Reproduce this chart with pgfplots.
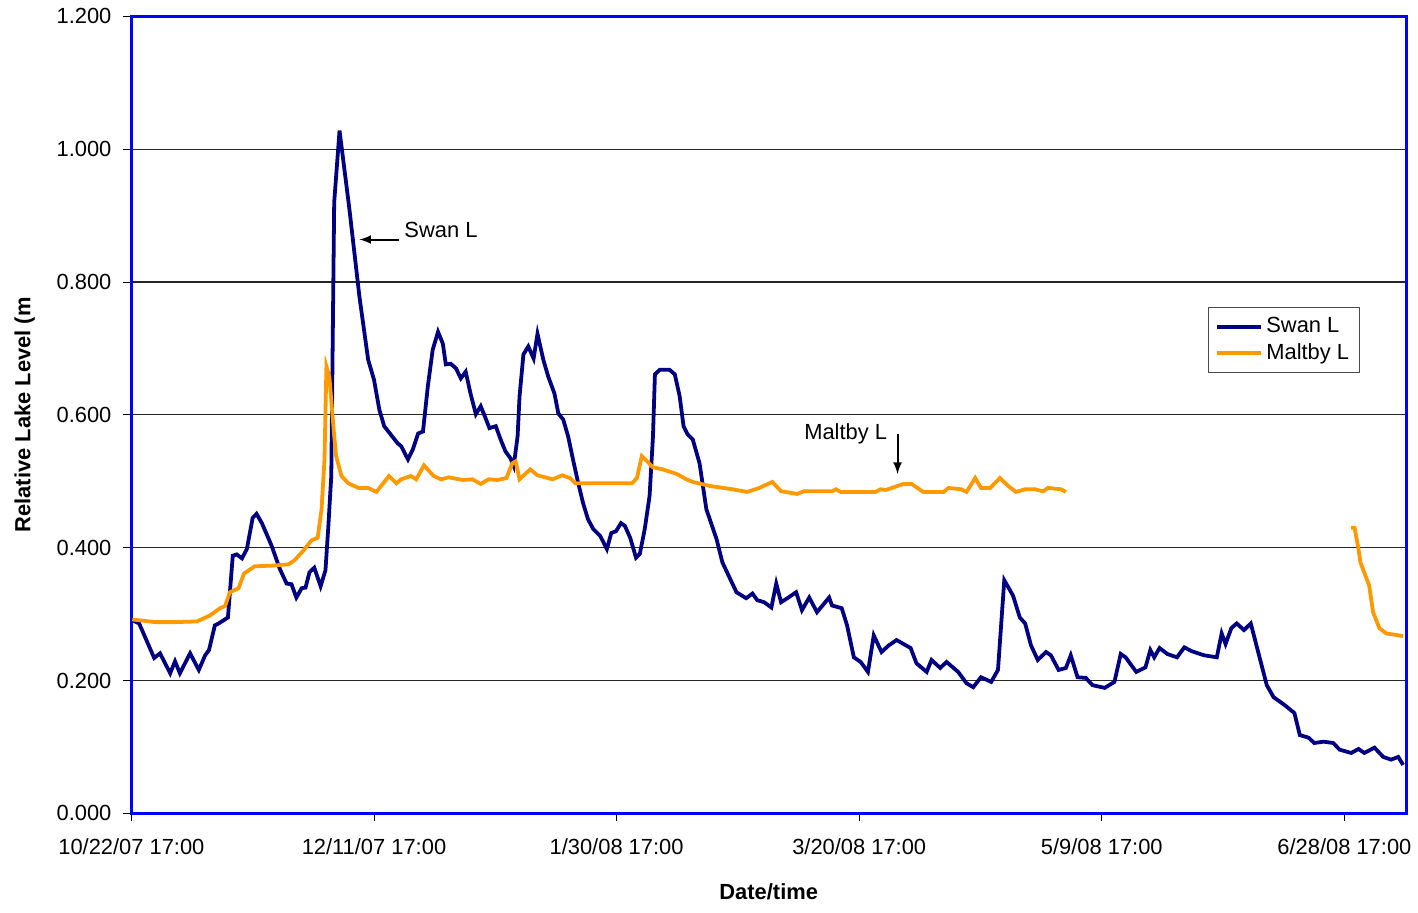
\documentclass[border=0pt]{standalone}
\usepackage{fontspec}
\setmainfont{Liberation Sans}
\usepackage{pgfplots}
\pgfplotsset{compat=1.18}
\definecolor{swan}{RGB}{0,0,128}
\definecolor{maltby}{RGB}{255,153,0}
\definecolor{frameblue}{RGB}{0,0,255}
\begin{document}
\begin{tikzpicture}
\begin{axis}[
    scale only axis,
    width=640.5pt, height=400.5pt,
    xmin=0, xmax=262.7,
    ymin=0, ymax=1.2,
    axis line style={frameblue, line width=1.5pt},
    xtick={0,50,100,150,200,250},
    xticklabels={10/22/07 17:00,12/11/07 17:00,1/30/08 17:00,3/20/08 17:00,5/9/08 17:00,6/28/08 17:00},
    ytick={0,0.2,0.4,0.6,0.8,1.0,1.2},
    yticklabel style={xshift=-2.5pt, /pgf/number format/.cd, fixed, fixed zerofill, precision=3},
    /pgf/number format/assume math mode=true,
    tick align=outside,
    tick pos=left,
    major tick length=4pt,
    tick style={black, thin},
    ymajorgrids=true,
    grid style={black!85, line width=0.6pt},
    ticklabel style={font=\fontsize{11}{13}\selectfont},
    xticklabel style={yshift=-5pt},
    xlabel={\textbf{Date/time}},
    ylabel={\textbf{Relative Lake Level (m}},
    label style={font=\fontsize{11}{13}\selectfont},
    xlabel style={yshift=-8pt},
    ylabel style={yshift=4pt},
    legend style={at={(0.845,0.635)}, anchor=north west, draw=black!70, thin,
        font=\fontsize{11}{13}\selectfont, row sep=0pt, inner sep=3pt},
    legend cell align=left,
    legend image code/.code={\draw[#1, line width=1.9pt] (0pt,0pt) -- (22pt,0pt);},
]
\addplot[swan, line width=1.9pt] coordinates {
(0.2,0.291)(1.6,0.286)(4.7,0.234)(5.9,0.241)(8.0,0.211)(9.0,0.229)(10.0,0.211)(12.1,0.241)(13.9,0.216)(15.2,0.238)(16.0,0.246)(17.2,0.283)(18.0,0.286)(19.9,0.295)(20.9,0.388)(21.7,0.390)(22.8,0.384)(23.8,0.398)(25.0,0.445)(25.8,0.451)(26.9,0.437)(28.9,0.403)(30.6,0.368)(32.0,0.346)(33.0,0.345)(34.0,0.325)(35.1,0.339)(35.9,0.340)(36.7,0.363)(37.7,0.370)(39.0,0.342)(40.0,0.366)(40.6,0.433)(41.2,0.508)(41.8,0.920)(42.9,1.028)(44.9,0.912)(47.0,0.778)(48.8,0.683)(50.0,0.653)(51.1,0.608)(52.1,0.583)(54.9,0.557)(55.6,0.553)(57.0,0.533)(58.0,0.548)(59.1,0.572)(60.1,0.575)(61.1,0.643)(62.1,0.698)(63.2,0.725)(64.2,0.707)(64.8,0.676)(65.8,0.677)(66.9,0.670)(67.9,0.655)(68.9,0.665)(69.9,0.632)(71.0,0.601)(72.0,0.613)(73.0,0.595)(73.8,0.580)(75.1,0.583)(76.1,0.563)(77.1,0.545)(78.1,0.535)(78.8,0.523)(79.6,0.568)(80.0,0.628)(80.8,0.691)(81.8,0.703)(82.9,0.685)(83.7,0.722)(84.9,0.683)(85.9,0.658)(87.2,0.632)(88.0,0.602)(89.0,0.593)(90.0,0.568)(91.1,0.530)(92.1,0.497)(93.1,0.467)(94.1,0.443)(95.2,0.428)(96.6,0.418)(98.0,0.398)(98.9,0.422)(99.9,0.425)(100.9,0.437)(101.7,0.433)(102.8,0.415)(104.0,0.385)(104.8,0.391)(105.8,0.428)(106.8,0.478)(107.5,0.568)(107.9,0.661)(108.9,0.668)(110.9,0.668)(112.0,0.661)(113.0,0.628)(113.8,0.583)(114.6,0.571)(115.7,0.563)(117.1,0.527)(118.5,0.458)(120.6,0.413)(121.8,0.378)(124.7,0.333)(126.7,0.324)(128.0,0.331)(129.0,0.321)(130.4,0.318)(131.9,0.310)(132.9,0.346)(133.9,0.318)(135.2,0.324)(137.0,0.333)(138.2,0.306)(139.7,0.325)(141.3,0.303)(143.8,0.325)(144.4,0.313)(146.4,0.309)(147.5,0.283)(148.9,0.235)(150.3,0.228)(151.8,0.213)(153.0,0.268)(154.6,0.243)(156.1,0.253)(157.7,0.261)(160.6,0.249)(161.8,0.226)(163.9,0.213)(164.9,0.231)(166.7,0.219)(168.0,0.228)(170.4,0.213)(172.1,0.196)(173.5,0.190)(175.1,0.205)(177.2,0.198)(178.6,0.216)(179.9,0.351)(181.7,0.328)(183.1,0.295)(184.2,0.286)(185.4,0.253)(186.8,0.231)(188.5,0.243)(189.5,0.238)(191.1,0.216)(192.6,0.219)(193.6,0.238)(195.0,0.205)(196.7,0.204)(198.1,0.193)(200.6,0.189)(202.6,0.198)(203.9,0.240)(204.9,0.235)(207.1,0.213)(209.0,0.220)(210.0,0.246)(210.8,0.235)(211.9,0.249)(213.5,0.240)(215.5,0.235)(217.0,0.250)(218.6,0.244)(221.1,0.238)(223.7,0.235)(224.7,0.271)(225.5,0.255)(226.7,0.279)(227.8,0.286)(229.3,0.276)(230.7,0.286)(232.4,0.238)(234.0,0.193)(235.4,0.175)(237.7,0.163)(239.7,0.151)(240.8,0.118)(242.6,0.114)(243.8,0.106)(245.7,0.108)(247.7,0.106)(249.0,0.096)(251.4,0.091)(252.9,0.097)(254.1,0.091)(256.2,0.099)(258.0,0.085)(259.6,0.081)(261.1,0.085)(262.1,0.073)
};
\addlegendentry{Swan L}
\addplot[maltby, line width=1.9pt] coordinates {
(0.2,0.292)(4.9,0.288)(9.0,0.288)(13.5,0.289)(16.2,0.298)(18.3,0.309)(19.3,0.312)(20.3,0.333)(22.1,0.339)(23.2,0.361)(25.4,0.372)(28.9,0.373)(32.4,0.375)(33.6,0.381)(35.5,0.396)(37.1,0.411)(38.4,0.415)(39.2,0.458)(39.8,0.533)(40.2,0.673)(40.8,0.658)(41.8,0.568)(42.2,0.538)(43.3,0.508)(44.7,0.497)(46.8,0.490)(48.8,0.490)(50.5,0.484)(51.9,0.497)(53.1,0.508)(54.6,0.497)(55.6,0.503)(57.6,0.508)(58.7,0.503)(60.3,0.524)(62.3,0.508)(63.8,0.503)(65.4,0.506)(68.3,0.502)(70.3,0.503)(72.0,0.496)(73.6,0.503)(75.5,0.502)(77.3,0.505)(78.5,0.527)(79.2,0.530)(80.0,0.503)(82.2,0.518)(83.7,0.509)(86.8,0.503)(88.8,0.509)(90.4,0.505)(91.5,0.497)(103.2,0.497)(104.2,0.505)(105.2,0.538)(107.5,0.521)(109.5,0.518)(112.4,0.511)(114.4,0.503)(115.7,0.499)(119.2,0.493)(123.9,0.488)(126.9,0.484)(129.4,0.490)(132.1,0.499)(133.9,0.485)(137.2,0.481)(138.6,0.485)(144.4,0.485)(145.2,0.488)(146.2,0.484)(153.4,0.484)(154.4,0.488)(155.5,0.487)(156.7,0.490)(159.1,0.496)(160.8,0.496)(163.2,0.484)(167.4,0.484)(168.4,0.490)(171.0,0.488)(172.1,0.484)(172.9,0.493)(173.9,0.505)(175.1,0.490)(177.0,0.490)(179.0,0.505)(180.7,0.493)(182.3,0.484)(184.2,0.488)(186.2,0.488)(187.9,0.485)(188.9,0.490)(191.6,0.488)(192.6,0.484)
};
\addlegendentry{Maltby L}
\addplot[maltby, line width=1.9pt, forget plot] coordinates {
(251.4,0.430)(252.1,0.430)(252.9,0.398)(253.3,0.378)(255.1,0.343)(255.9,0.303)(257.2,0.279)(258.6,0.271)(262.1,0.267)
};
\draw[-latex, line width=1pt] (axis cs:55.2,0.864) -- (axis cs:47.0,0.864);
\node[anchor=west, font=\fontsize{11}{13}\selectfont, inner sep=0pt] at (axis cs:56.2,0.878) {Swan L};
\draw[-latex, line width=1pt] (axis cs:157.9,0.571) -- (axis cs:157.9,0.511);
\node[anchor=west, font=\fontsize{11}{13}\selectfont, inner sep=0pt] at (axis cs:138.6,0.571) {Maltby L};
\end{axis}
\path (current bounding box.west) ++(-4pt,0pt);
\path (current bounding box.south) ++(0pt,-3pt);
\path (current bounding box.north) ++(0pt,1pt);
\end{tikzpicture}
\end{document}
